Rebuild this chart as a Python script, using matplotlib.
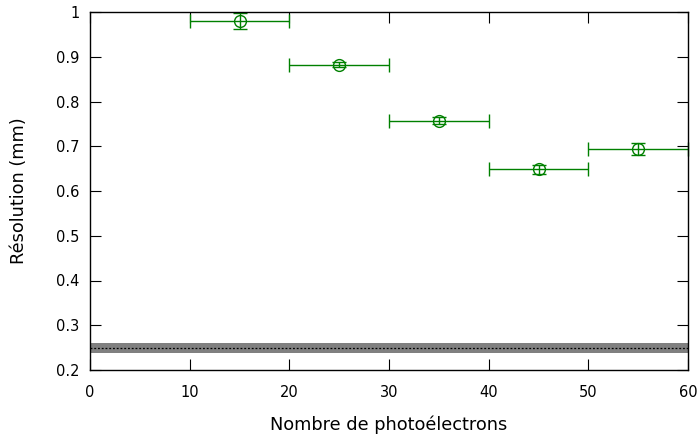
import matplotlib
matplotlib.use("Agg")
import matplotlib.pyplot as plt

# resolution vs number of photoelectrons (bins of 10)
npe = [15, 25, 35, 45, 55]
npe_err = [5, 5, 5, 5, 5]
resol = [0.980, 0.882, 0.757, 0.649, 0.694]
resol_err = [0.018, 0.006, 0.008, 0.010, 0.013]

ref_val = 0.249  # reference resolution (dotted line)
ref_err = 0.0105  # band half-width

plt.rcParams['font.family'] = 'DejaVu Sans'
fig = plt.figure(figsize=(6.97, 4.34), dpi=100)
ax = fig.add_axes([90/697, 1-370/434, 598/697, 358/434])

ax.axhspan(ref_val-ref_err, ref_val+ref_err, color='#808080', lw=0)
ax.axhline(ref_val, color='black', ls=(0, (1.5, 1.5)), lw=0.9)

eb = ax.errorbar(npe, resol, xerr=npe_err, yerr=resol_err, fmt='o', mfc='none',
                 mec='#008000', ecolor='#008000', ms=8.5, mew=1, elinewidth=1,
                 capsize=5, capthick=1)
for art in eb.lines[0:1] + tuple(eb.lines[1]) + tuple(eb.lines[2]):
    if art is not None:
        art.set_clip_on(False)

ax.set_xlim(0, 60)
ax.set_ylim(0.2, 1.0)
ax.set_xticks(range(0, 61, 10))
ax.set_yticks([0.2, 0.3, 0.4, 0.5, 0.6, 0.7, 0.8, 0.9, 1.0])
ax.set_yticklabels(['0.2', '0.3', '0.4', '0.5', '0.6', '0.7', '0.8', '0.9', '1'])
ax.tick_params(direction='in', length=8, width=0.8, top=True, right=True,
               labelsize=10.5)
ax.tick_params(axis='x', pad=11)
ax.tick_params(axis='y', pad=7.5)
for s in ax.spines.values():
    s.set_linewidth(1)

ax.set_xlabel('Nombre de photoélectrons', fontsize=12.8, labelpad=11)
ax.set_ylabel('Résolution (mm)', fontsize=12.8, labelpad=20)

fig.savefig('out.png', dpi=100)
